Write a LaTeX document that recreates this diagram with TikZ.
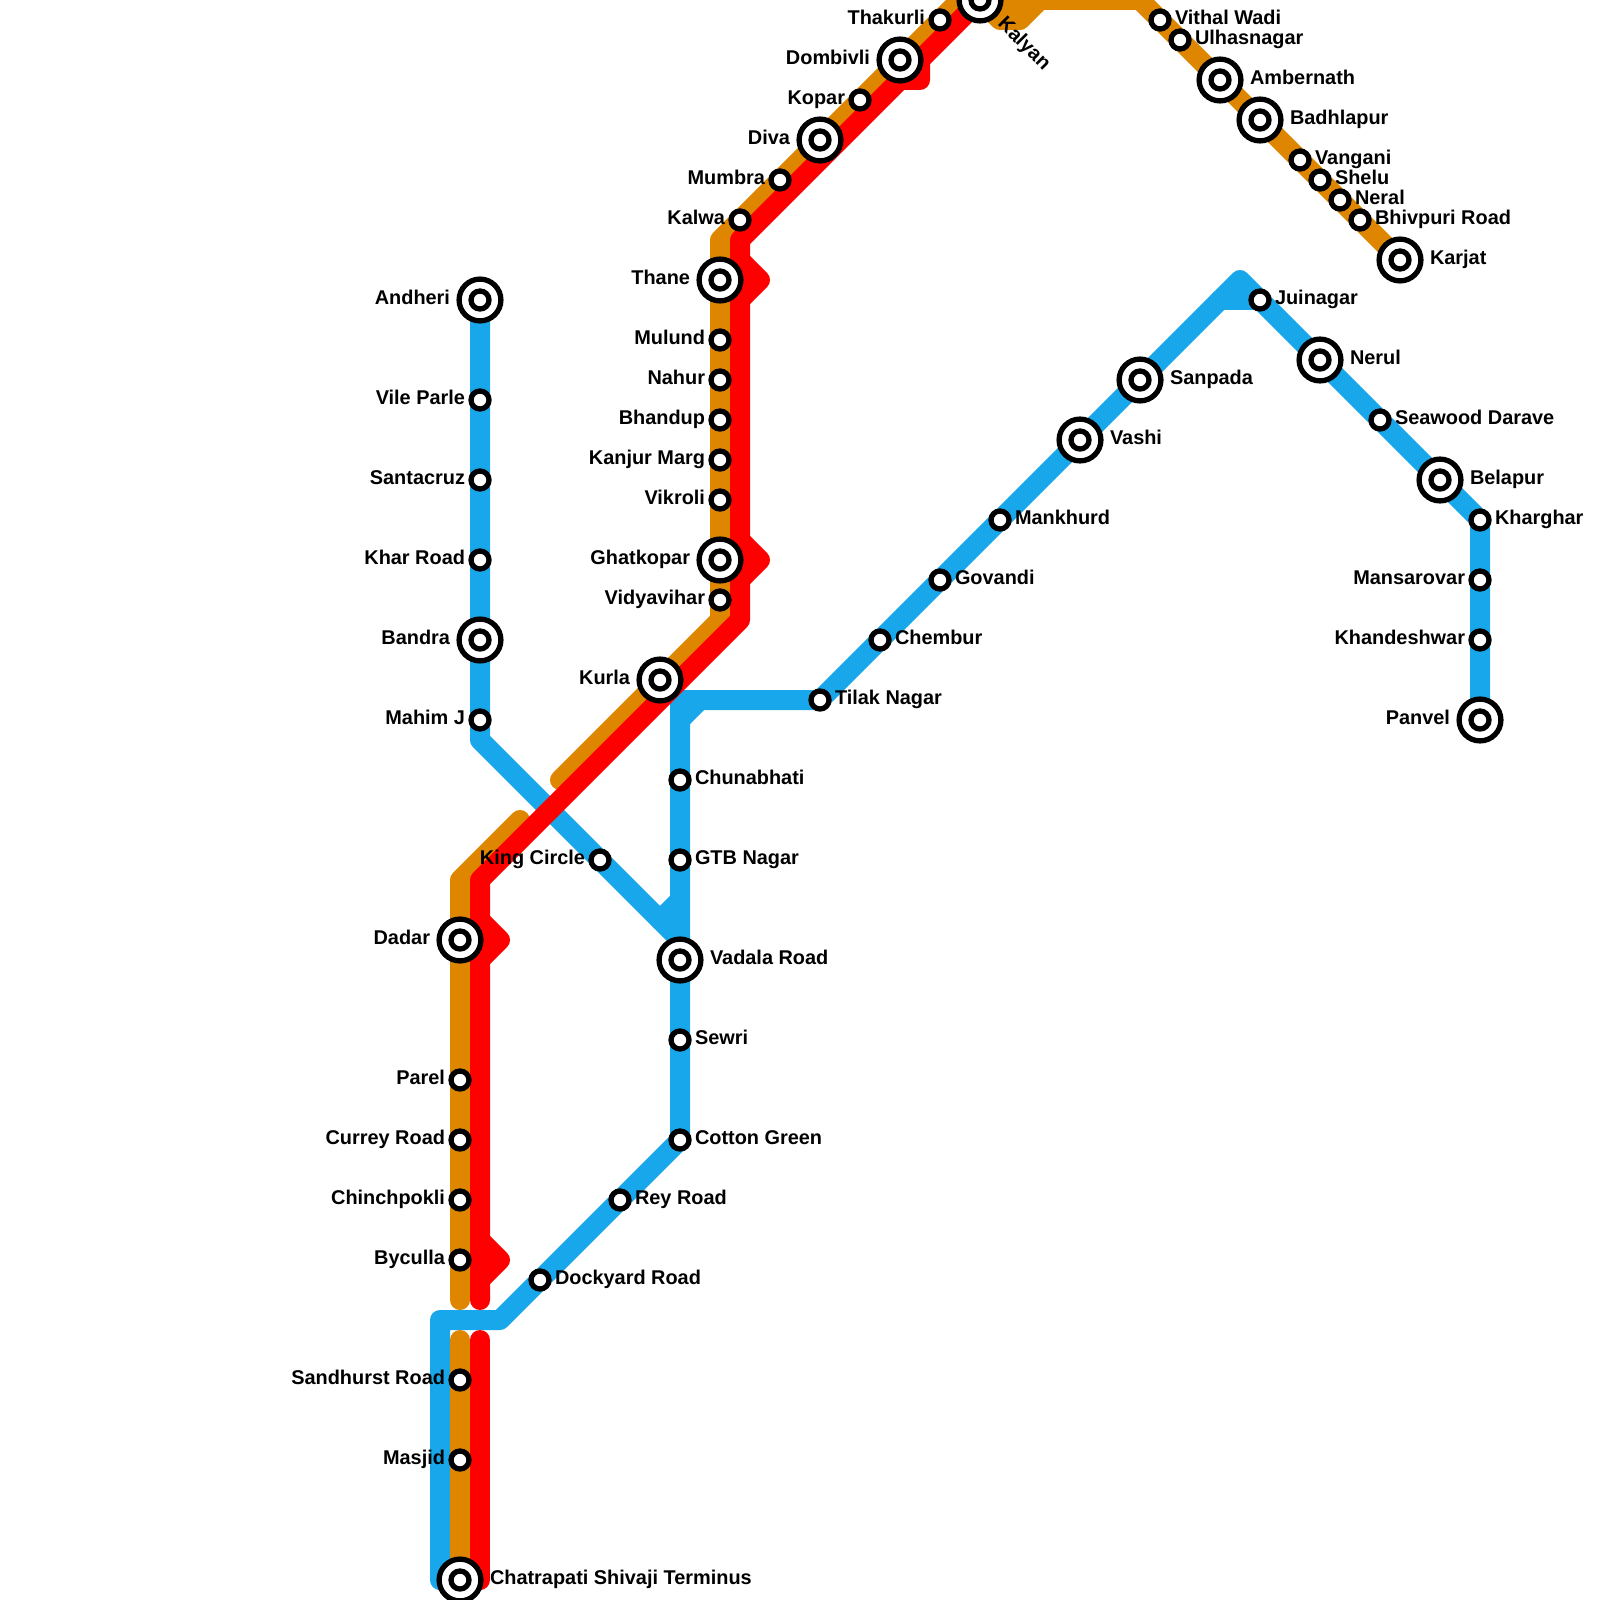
\documentclass[tikz,border=0pt]{standalone}
\usepackage{fontspec}
\setmainfont{Liberation Sans}
\usetikzlibrary{backgrounds}
\definecolor{lineblue}{HTML}{18A7EB}
\definecolor{lineorange}{HTML}{DF8600}
\definecolor{linered}{HTML}{FF0000}
\tikzset{
  stn/.style={circle,draw=black,fill=white,line width=5.3pt,minimum size=18pt,inner sep=0pt},
  xring/.style={circle,draw=black,fill=white,line width=5.3pt,minimum size=41.8pt,inner sep=0pt},
  lbl/.style={font=\bfseries\fontsize{19.9pt}{21pt}\selectfont,text=black,inner sep=0pt,outer sep=0pt},
  lblL/.style={lbl,anchor=base east,yshift=-4.5pt},
  lblR/.style={lbl,anchor=base west,yshift=-4.5pt},
  route/.style={line width=20pt,line cap=round,line join=round},
  blueline/.style={route,draw=lineblue},
  orangeline/.style={route,draw=lineorange},
  redline/.style={route,draw=linered},
}
\newcommand{\StnL}[4]{\node[stn] (#1) at (#2,#3) {};\node[lblL,xshift=-15pt] (#1-t) at (#2,#3) {#4};}
\newcommand{\StnR}[4]{\node[stn] (#1) at (#2,#3) {};\node[lblR,xshift=15pt] (#1-t) at (#2,#3) {#4};}
\newcommand{\XchL}[4]{\node[xring] (#1) at (#2,#3) {};\node[stn] (#1-i) at (#2,#3) {};\node[lblL,xshift=-30pt] (#1-t) at (#2,#3) {#4};}
\newcommand{\XchR}[4]{\node[xring] (#1) at (#2,#3) {};\node[stn] (#1-i) at (#2,#3) {};\node[lblR,xshift=30pt] (#1-t) at (#2,#3) {#4};}
\begin{document}
\begin{tikzpicture}[x=1pt,y=-1pt]
\useasboundingbox (0,0) rectangle (1600,1600);
\clip (0,0) rectangle (1600,1600);
% western / harbour branch
\XchL{andheri}{480}{300}{Andheri}
\StnL{vileparle}{480}{400}{Vile Parle}
\StnL{santacruz}{480}{480}{Santacruz}
\StnL{kharroad}{480}{560}{Khar Road}
\XchL{bandra}{480}{640}{Bandra}
\StnL{mahim}{480}{720}{Mahim J}
\StnL{king}{600}{860}{King Circle}
% harbour
\StnR{tilak}{820}{700}{Tilak Nagar}
\StnR{chunabhati}{680}{780}{Chunabhati}
\StnR{gtb}{680}{860}{GTB Nagar}
\XchR{vadala}{680}{960}{Vadala Road}
\StnR{sewri}{680}{1040}{Sewri}
\StnR{cotton}{680}{1140}{Cotton Green}
\StnR{rey}{620}{1200}{Rey Road}
\StnR{dockyard}{540}{1280}{Dockyard Road}
% trans-harbour
\StnR{chembur}{880}{640}{Chembur}
\StnR{govandi}{940}{580}{Govandi}
\StnR{mankhurd}{1000}{520}{Mankhurd}
\XchR{vashi}{1080}{440}{Vashi}
\XchR{sanpada}{1140}{380}{Sanpada}
\StnR{juinagar}{1260}{300}{Juinagar}
\XchR{nerul}{1320}{360}{Nerul}
\StnR{seawood}{1380}{420}{Seawood Darave}
\XchR{belapur}{1440}{480}{Belapur}
\StnR{kharghar}{1480}{520}{Kharghar}
\StnL{mansarovar}{1480}{580}{Mansarovar}
\StnL{khandeshwar}{1480}{640}{Khandeshwar}
\XchL{panvel}{1480}{720}{Panvel}
% central
\XchR{cst}{460}{1580}{Chatrapati Shivaji Terminus}
\StnL{masjid}{460}{1460}{Masjid}
\StnL{sandhurst}{460}{1380}{Sandhurst Road}
\StnL{byculla}{460}{1260}{Byculla}
\StnL{chinchpokli}{460}{1200}{Chinchpokli}
\StnL{currey}{460}{1140}{Currey Road}
\StnL{parel}{460}{1080}{Parel}
\XchL{dadar}{460}{940}{Dadar}
\XchL{kurla}{660}{680}{Kurla}
\StnL{vidyavihar}{720}{600}{Vidyavihar}
\XchL{ghatkopar}{720}{560}{Ghatkopar}
\StnL{vikroli}{720}{500}{Vikroli}
\StnL{kanjur}{720}{460}{Kanjur Marg}
\StnL{bhandup}{720}{420}{Bhandup}
\StnL{nahur}{720}{380}{Nahur}
\StnL{mulund}{720}{340}{Mulund}
\XchL{thane}{720}{280}{Thane}
\StnL{kalwa}{740}{220}{Kalwa}
\StnL{mumbra}{780}{180}{Mumbra}
\XchL{diva}{820}{140}{Diva}
\StnL{kopar}{860}{100}{Kopar}
\XchL{dombivli}{900}{60}{Dombivli}
\StnL{thakurli}{940}{20}{Thakurli}
\node[xring] (kalyan) at (980,0) {};
\node[stn] (kalyan-i) at (980,0) {};
\node[lbl,rotate=-45,anchor=base west] (kalyan-t) at (997,25) {Kalyan};
\StnR{vithal}{1160}{20}{Vithal Wadi}
\StnR{ulhas}{1180}{40}{Ulhasnagar}
\XchR{ambernath}{1220}{80}{Ambernath}
\XchR{badhlapur}{1260}{120}{Badhlapur}
\StnR{vangani}{1300}{160}{Vangani}
\StnR{shelu}{1320}{180}{Shelu}
\StnR{neral}{1340}{200}{Neral}
\StnR{bhivpuri}{1360}{220}{Bhivpuri Road}
\XchR{karjat}{1400}{260}{Karjat}
% free ends and bends
\coordinate (bA) at (480,740);
\coordinate (bB) at (680,940);
\coordinate (bC) at (680,900);
\coordinate (bD) at (660,920);
\coordinate (bE) at (680,700);
\coordinate (bF) at (700,700);
\coordinate (bG) at (680,720);
\coordinate (bH) at (500,1320);
\coordinate (bI) at (440,1320);
\coordinate (bJ) at (440,1580);
\coordinate (bK) at (1240,280);
\coordinate (bL) at (1220,300);
\coordinate (rA) at (480,1300);
\coordinate (rB) at (480,880);
\coordinate (rC) at (740,620);
\coordinate (rD) at (740,240);
\coordinate (rE) at (480,1340);
\coordinate (rF) at (480,1580);
\coordinate (oA) at (460,1300);
\coordinate (oB) at (460,880);
\coordinate (oC) at (520,820);
\coordinate (oD) at (560,780);
\coordinate (oE) at (720,620);
\coordinate (oF) at (720,240);
\coordinate (oG) at (960,0);
\coordinate (oH) at (1140,0);
\coordinate (oI) at (460,1340);
\coordinate (oJ) at (1000,20);
\coordinate (oK) at (1020,20);
\coordinate (oL) at (1040,0);
\begin{scope}[on background layer]
  \clip (0,0) rectangle (1600,1600);
  % blue
  \draw[blueline] (andheri.center) -- (bA) -- (bB) -- (vadala.center);
  \draw[blueline] (tilak.center) -- (bE) -- (cotton.center) -- (bH) -- (bI) -- (bJ);
  \draw[blueline] (bF) -- (bG);
  \draw[blueline] (bC) -- (bD);
  \draw[blueline] (tilak.center) -- (bK) -- (kharghar.center) -- (panvel.center);
  \draw[blueline] (bL) -- (juinagar.center);
  % orange
  \draw[orangeline] (oA) -- (oB) -- (oC);
  \draw[orangeline] (oD) -- (oE) -- (oF) -- (oG) -- (oH) -- (karjat.center);
  \draw[orangeline] (oI) -- (cst.center);
  \draw[orangeline] (kalyan.center) -- (oJ) -- (oK) -- (oL);
  % red
  \draw[redline] (rA) -- (rB) -- (rC) -- (rD) -- (kalyan.center);
  \draw[redline] (rE) -- (rF);
  \coordinate (p1) at (480,920); \coordinate (p2) at (500,940); \coordinate (p3) at (480,960);
  \draw[redline] (p1) -- (p2) -- (p3) -- cycle;
  \coordinate (p4) at (480,1240); \coordinate (p5) at (500,1260); \coordinate (p6) at (480,1280);
  \draw[redline] (p4) -- (p5) -- (p6) -- cycle;
  \coordinate (p7) at (740,260); \coordinate (p8) at (760,280); \coordinate (p9) at (740,300);
  \draw[redline] (p7) -- (p8) -- (p9) -- cycle;
  \coordinate (p10) at (740,540); \coordinate (p11) at (760,560); \coordinate (p12) at (740,580);
  \draw[redline] (p10) -- (p11) -- (p12) -- cycle;
  \coordinate (p13) at (900,80); \coordinate (p14) at (920,80); \coordinate (p15) at (920,60);
  \draw[redline] (p13) -- (p14) -- (p15) -- cycle;
\end{scope}
\end{tikzpicture}
\end{document}
